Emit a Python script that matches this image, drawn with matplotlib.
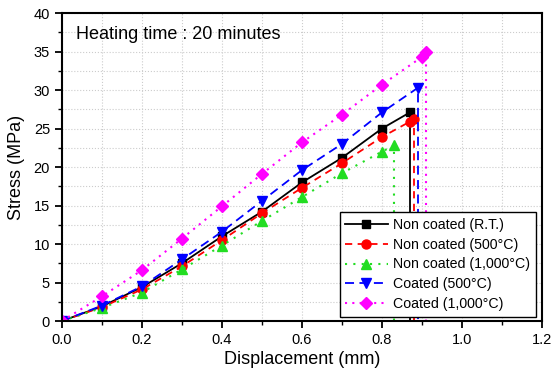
import matplotlib
matplotlib.use('Agg')
import matplotlib.pyplot as plt
from matplotlib.ticker import MultipleLocator, FormatStrFormatter

plt.rcParams['font.family'] = ['Liberation Sans', 'DejaVu Sans']

# each curve ends with a vertical drop to zero at failure
rt_x = [0.0, 0.1, 0.2, 0.3, 0.4, 0.5, 0.6, 0.7, 0.8, 0.87, 0.87]
rt_y = [0.0, 1.9, 4.4, 7.5, 11.0, 14.2, 18.0, 21.2, 25.0, 27.1, 0.0]

nc500_x = [0.0, 0.1, 0.2, 0.3, 0.4, 0.5, 0.6, 0.7, 0.8, 0.87, 0.88, 0.88]
nc500_y = [0.0, 1.8, 4.1, 7.1, 10.5, 14.0, 17.3, 20.5, 23.9, 25.9, 26.3, 0.0]

nc1000_x = [0.0, 0.1, 0.2, 0.3, 0.4, 0.5, 0.6, 0.7, 0.8, 0.83, 0.83]
nc1000_y = [0.0, 1.7, 3.7, 6.7, 9.8, 13.0, 16.1, 19.2, 22.0, 22.8, 0.0]

c500_x = [0.0, 0.1, 0.2, 0.3, 0.4, 0.5, 0.6, 0.7, 0.8, 0.89, 0.89]
c500_y = [0.0, 2.0, 4.5, 8.0, 11.6, 15.6, 19.6, 23.0, 27.1, 30.3, 0.0]

c1000_x = [0.0, 0.1, 0.2, 0.3, 0.4, 0.5, 0.6, 0.7, 0.8, 0.9, 0.91, 0.91]
c1000_y = [0.0, 3.2, 6.6, 10.7, 14.9, 19.1, 23.2, 26.8, 30.7, 34.3, 35.0, 0.0]

labels = ['Non coated (R.T.)', 'Non coated (500°C)', 'Non coated (1,000°C)',
          'Coated (500°C)', 'Coated (1,000°C)']

fig = plt.figure(figsize=(5.52, 3.72), dpi=100)
ax = fig.add_axes([0.112, 0.137, 0.870, 0.828])

# no marker on the drop point
mk = slice(0, -1)
ax.plot(rt_x, rt_y, color='black', linestyle='-', lw=1.3,
        marker='s', markersize=6, markevery=mk, label=labels[0])
ax.plot(nc500_x, nc500_y, color='#ff0000', linestyle=(0, (4, 3)), lw=1.3,
        marker='o', markersize=6.5, markevery=mk, label=labels[1])
ax.plot(nc1000_x, nc1000_y, color='#22dd22', linestyle=(0, (1, 3)), lw=1.5,
        marker='^', markersize=7, markevery=mk, label=labels[2])
ax.plot(c500_x, c500_y, color='#0000ff', linestyle=(0, (5, 3)), lw=1.3,
        marker='v', markersize=7, markevery=mk, label=labels[3])
ax.plot(c1000_x, c1000_y, color='#ff00ff', linestyle=(0, (1, 2.5)), lw=1.5,
        marker='D', markersize=6, markevery=mk, label=labels[4])

ax.set_xlim(0, 1.2)
ax.set_ylim(0, 40)
ax.xaxis.set_major_locator(MultipleLocator(0.2))
ax.xaxis.set_minor_locator(MultipleLocator(0.1))
ax.yaxis.set_major_locator(MultipleLocator(5))
ax.yaxis.set_minor_locator(MultipleLocator(2.5))
ax.xaxis.set_major_formatter(FormatStrFormatter('%.1f'))

ax.grid(which='both', color='#cccccc', linestyle=':', lw=0.8)
ax.set_axisbelow(True)

for s in ax.spines.values():
    s.set_linewidth(1.5)
ax.tick_params(which='major', direction='out', length=5, width=1.3, labelsize=10.5)
ax.tick_params(which='minor', direction='out', length=3, width=1.0)

ax.set_xlabel('Displacement (mm)', fontsize=13, labelpad=3)
ax.set_ylabel('Stress (MPa)', fontsize=13, labelpad=6)

ax.text(0.035, 37.2, 'Heating time : 20 minutes', fontsize=13, va='center')

leg = ax.legend(loc='lower right', fontsize=10.2, frameon=True, fancybox=False,
                edgecolor='black', framealpha=1, borderpad=0.4,
                labelspacing=0.42, handlelength=3.0, handletextpad=0.4,
                borderaxespad=0, bbox_to_anchor=(0.9875, 0.013))
leg.get_frame().set_linewidth(1.0)

fig.savefig('out.png', dpi=100)
